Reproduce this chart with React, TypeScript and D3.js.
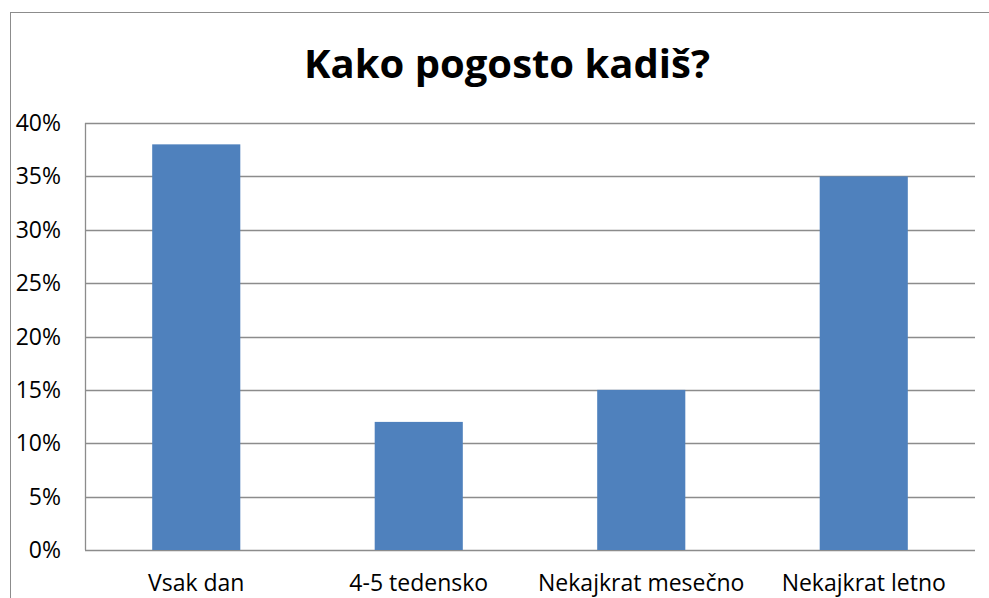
import React from "react";
import * as d3 from "d3";

const title = "Kako pogosto kadiš?";
const categories = ["Vsak dan", "4-5 tedensko", "Nekajkrat mesečno", "Nekajkrat letno"];
const values = [0.38, 0.12, 0.15, 0.35];
const yTicks = [0, 0.05, 0.1, 0.15, 0.2, 0.25, 0.3, 0.35, 0.4];

const W = 989;
const H = 598;
const plot = { left: 85, right: 975, top: 123, bottom: 550 };
const FONT = "'Open Sans', Lato, sans-serif";

export default function App() {
  const x = d3
    .scaleBand<string>()
    .domain(categories)
    .range([plot.left, plot.right])
    .paddingInner(0.604)
    .paddingOuter(0.302);
  const y = d3.scaleLinear().domain([0, 0.4]).range([plot.bottom, plot.top]);
  const fmt = d3.format(".0%");
  const grid = "#8c8c8c";

  return (
    <svg
      width={W}
      height={H}
      style={{ position: "absolute", left: 0, top: 0, background: "#fff" }}
    >
      <rect x={10.5} y={12.5} width={W + 20} height={H + 20} fill="#fff" stroke={grid} strokeWidth={1} />
      <text
        x={507}
        y={78}
        textAnchor="middle"
        fontFamily={FONT}
        fontWeight="bold"
        fontSize={40}
        fill="#000"
      >
        {title}
      </text>
      {yTicks.map((t) => (
        <g key={t}>
          <line
            x1={plot.left}
            x2={plot.right}
            y1={Math.round(y(t)) + 0.5}
            y2={Math.round(y(t)) + 0.5}
            stroke={grid}
            strokeWidth={1.3}
          />
          <text
            x={61}
            y={y(t) + 8}
            textAnchor="end"
            fontFamily={FONT}
            fontSize={23}
            fill="#000"
          >
            {fmt(t)}
          </text>
        </g>
      ))}
      <line x1={plot.left + 0.5} x2={plot.left + 0.5} y1={plot.top} y2={plot.bottom} stroke={grid} strokeWidth={1.3} />
      {categories.map((c, i) => (
        <rect
          key={c}
          x={x(c)!}
          y={y(values[i])}
          width={x.bandwidth()}
          height={y(0) - y(values[i])}
          fill="#4F81BD"
        />
      ))}
      {categories.map((c) => (
        <text
          key={c}
          x={x(c)! + x.bandwidth() / 2}
          y={591}
          textAnchor="middle"
          fontFamily={FONT}
          fontSize={23}
          fill="#000"
        >
          {c}
        </text>
      ))}
    </svg>
  );
}
